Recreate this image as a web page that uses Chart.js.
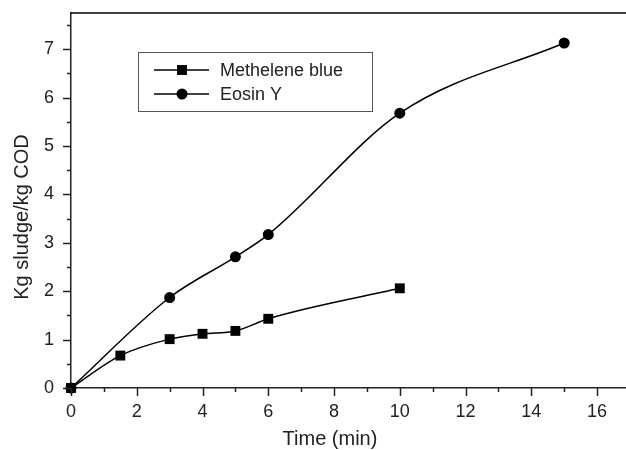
<!DOCTYPE html>
<html>
<head>
<meta charset="utf-8">
<script src="https://cdn.jsdelivr.net/npm/chart.js@4.4.1/dist/chart.umd.min.js"></script>
<style>
  html, body { margin: 0; padding: 0; background: #fff; overflow: hidden; }
  #wrap { width: 626px; height: 450px; position: relative; }
</style>
</head>
<body>
<div id="wrap"><canvas id="c" width="626" height="450"></canvas></div>
<script>
// ---- Data ----
const seriesNames = ["Methelene blue", "Eosin Y"];
const mbTime  = [0, 1.5, 3, 4, 5, 6, 10];
const mbValue = [0, 0.67, 1.01, 1.12, 1.18, 1.43, 2.06];
const eyTime  = [0, 3, 5, 6, 10, 15];
const eyValue = [0, 1.87, 2.71, 3.17, 5.68, 7.13];
const xTickLabels = [0, 2, 4, 6, 8, 10, 12, 14, 16];
const yTickLabels = [0, 1, 2, 3, 4, 5, 6, 7];
const xTitle = "Time (min)";
const yTitle = "Kg sludge/kg COD";

const FONT = "'Liberation Sans', Arial, Helvetica, sans-serif";

function pts(xs, ys) { return xs.map((x, i) => ({ x: x, y: ys[i] })); }
function noPad(s) { s.paddingTop = 0; s.paddingBottom = 0; s.paddingLeft = 0; s.paddingRight = 0; }

// Minor/major tick marks, top frame line, axis titles, legend
const decorPlugin = {
  id: 'decor',
  afterDraw(chart) {
    const ctx = chart.ctx;
    const xs = chart.scales.x, ys = chart.scales.y;
    const ca = chart.chartArea;
    ctx.save();
    ctx.strokeStyle = '#222';
    ctx.lineWidth = 1.5;
    for (let v = 0; v <= 16; v += 1) {
      const px = Math.round(xs.getPixelForValue(v)) + 0.5;
      const len = (v % 2 === 0) ? 8 : 4;
      ctx.beginPath();
      ctx.moveTo(px, ca.bottom);
      ctx.lineTo(px, ca.bottom + len);
      ctx.stroke();
    }
    for (let v = 0; v <= 7.5; v += 0.5) {
      const py = Math.round(ys.getPixelForValue(v)) + 0.5;
      const len = (Math.abs(v - Math.round(v)) < 1e-6) ? 8 : 4;
      ctx.beginPath();
      ctx.moveTo(ca.left, py);
      ctx.lineTo(ca.left - len, py);
      ctx.stroke();
    }
    ctx.strokeStyle = '#000';
    ctx.lineWidth = 1.5;
    ctx.beginPath();
    ctx.moveTo(ca.left, ca.top);
    ctx.lineTo(chart.width, ca.top);
    ctx.stroke();
    ctx.fillStyle = '#222';
    ctx.font = '20px ' + FONT;
    ctx.textAlign = 'center';
    ctx.textBaseline = 'alphabetic';
    ctx.fillText(xTitle, 330, 445);
    ctx.save();
    ctx.translate(28, 217);
    ctx.rotate(-Math.PI / 2);
    ctx.fillText(yTitle, 0, 0);
    ctx.restore();
    const bx = 138.5, by = 52.5, bw = 234, bh = 59;
    ctx.strokeStyle = '#555';
    ctx.lineWidth = 1;
    ctx.strokeRect(bx, by, bw, bh);
    const rows = [70, 94];
    chart.data.datasets.forEach((ds, i) => {
      const y = rows[i];
      ctx.strokeStyle = '#000';
      ctx.lineWidth = 1.5;
      ctx.beginPath();
      ctx.moveTo(154, y);
      ctx.lineTo(209, y);
      ctx.stroke();
      ctx.fillStyle = '#000';
      Chart.helpers.drawPoint(ctx, {
        pointStyle: ds.pointStyle, radius: ds.pointRadius, borderWidth: 0, rotation: 0
      }, 182, y);
      ctx.fillStyle = '#222';
      ctx.font = '18px ' + FONT;
      ctx.textAlign = 'left';
      ctx.textBaseline = 'middle';
      ctx.fillText(ds.label, 220, y + 1);
    });
    ctx.restore();
  }
};

new Chart(document.getElementById('c'), {
  type: 'line',
  data: {
    datasets: [
      {
        label: seriesNames[0],
        data: pts(mbTime, mbValue),
        borderColor: '#000', backgroundColor: '#000',
        borderWidth: 1.5, cubicInterpolationMode: 'monotone',
        pointStyle: 'rect', pointRadius: 7, pointBorderWidth: 0,
        clip: false
      },
      {
        label: seriesNames[1],
        data: pts(eyTime, eyValue),
        borderColor: '#000', backgroundColor: '#000',
        borderWidth: 1.5, cubicInterpolationMode: 'monotone',
        pointStyle: 'circle', pointRadius: 5.5, pointBorderWidth: 0,
        clip: false
      }
    ]
  },
  options: {
    responsive: false,
    animation: false,
    devicePixelRatio: 1,
    layout: { autoPadding: false, padding: { top: 13, left: 0, right: 0, bottom: 0 } },
    plugins: { legend: { display: false }, tooltip: { enabled: false } },
    scales: {
      x: {
        type: 'linear',
        min: 0, max: 16.88,
        afterBuildTicks: (s) => { s.ticks = xTickLabels.map(v => ({ value: v })); },
        afterFit: (s) => { s.height = 62; noPad(s); },
        grid: { display: true, drawOnChartArea: false, drawTicks: false },
        border: { display: true, color: '#222', width: 1.5 },
        ticks: { color: '#222', font: { family: FONT, size: 18 }, padding: 13, maxRotation: 0 }
      },
      y: {
        type: 'linear',
        min: 0, max: 7.75,
        afterBuildTicks: (s) => { s.ticks = yTickLabels.map(v => ({ value: v })); },
        afterFit: (s) => { s.width = 71; noPad(s); },
        grid: { display: true, drawOnChartArea: false, drawTicks: false },
        border: { display: true, color: '#222', width: 1.5 },
        ticks: { color: '#222', font: { family: FONT, size: 18 }, padding: 17 }
      }
    }
  },
  plugins: [decorPlugin]
});
</script>
</body>
</html>
